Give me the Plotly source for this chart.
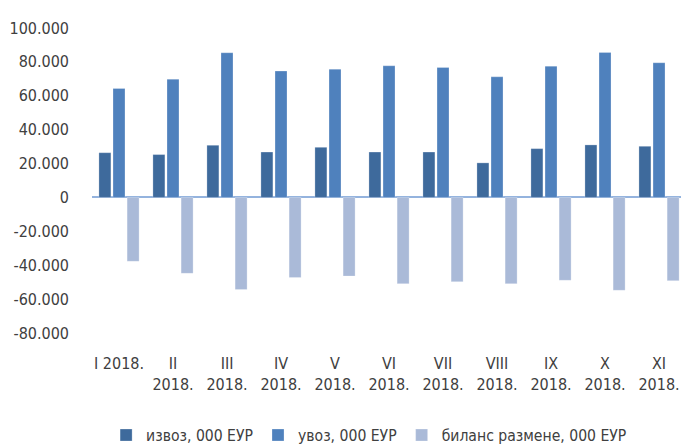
import plotly.graph_objects as go

categories = ["I 2018.", "II<br>2018.", "III<br>2018.", "IV<br>2018.", "V<br>2018.", "VI<br>2018.",
              "VII<br>2018.", "VIII<br>2018.", "IX<br>2018.", "X<br>2018.", "XI<br>2018."]
izvoz = [26400, 25300, 30800, 26800, 29600, 26800, 26800, 20400, 28800, 31000, 30200]
uvoz = [64300, 69800, 85400, 74600, 75700, 77700, 76700, 71200, 77500, 85600, 79500]
bilans = [-37700, -44800, -54400, -47300, -46400, -50900, -49700, -50900, -48900, -54800, -49100]

tick_vals = [100000, 80000, 60000, 40000, 20000, 0, -20000, -40000, -60000, -80000]
tick_text = ["100.000", "80.000", "60.000", "40.000", "20.000", "0", "-20.000", "-40.000", "-60.000", "-80.000"]

names = ["извоз, 000 ЕУР", "увоз, 000 ЕУР", "биланс размене, 000 ЕУР"]
colors = ["#3E6A9C", "#4F81BD", "#AABAD8"]

font_family = "DejaVu Sans Condensed"
fs = 16

fig = go.Figure()
for vals, name, col in zip([izvoz, uvoz, bilans], names, colors):
    fig.add_trace(go.Bar(x=categories, y=vals, name=name,
                         marker=dict(color=col, line=dict(color="rgba(255,255,255,0.5)", width=0.5))))

fig.update_layout(
    width=681, height=447,
    margin=dict(l=92, r=0, t=28, b=114),
    paper_bgcolor="white", plot_bgcolor="white",
    barmode="group", bargap=0.217, bargroupgap=0.15,
    font=dict(family=font_family, size=fs, color="#404040"),
    showlegend=True,
    legend=dict(orientation="h", xref="container", yref="container",
                x=0.542, xanchor="center", y=0.026, yanchor="middle",
                font=dict(size=15.6, color="#404040"),
                traceorder="normal"),
)
fig.update_xaxes(type="category", range=[-0.5, 10.407], showgrid=False, showline=False,
                 ticks="", tickangle=0, ticklabelstandoff=19, tickfont=dict(size=fs))
fig.update_yaxes(range=[-80000, 100000], tickvals=tick_vals, ticktext=tick_text,
                 showgrid=False, showline=False, zeroline=True, zerolinecolor="#94B3DE",
                 zerolinewidth=2, ticks="", ticklabelstandoff=22, tickfont=dict(size=fs))

fig.write_html("out.html", config={"displayModeBar": False},
               post_script="document.body.style.margin='0px';")
